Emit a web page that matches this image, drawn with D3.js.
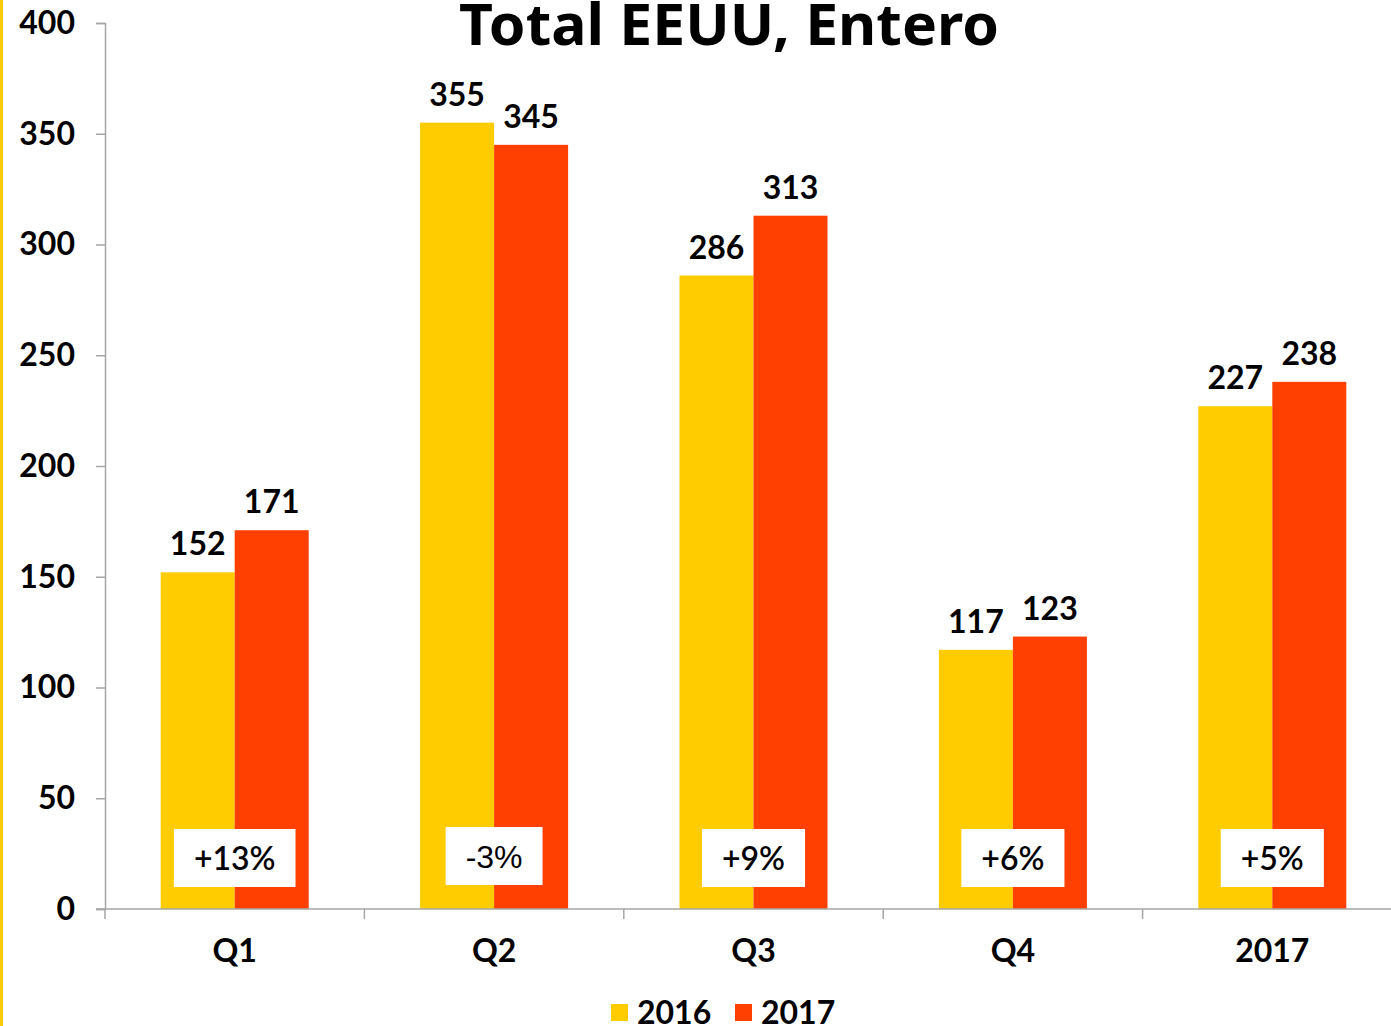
<!DOCTYPE html>
<html>
<head>
<meta charset="UTF-8">
<title>Total EEUU, Entero</title>
<script src="https://cdn.jsdelivr.net/npm/d3@7"></script>
<style>
    body { margin: 0; background: #fff; }
    svg { display: block; }
    text { font-family: Lato, "Noto Sans", sans-serif; fill: #000; }
</style>
</head>
<body>
<div id="chart"></div>
<script>
    // data
    var categories = ["Q1", "Q2", "Q3", "Q4", "2017"];
    var seriesNames = ["2016", "2017"];
    var values2016 = [152, 355, 286, 117, 227];
    var values2017 = [171, 345, 313, 123, 238];
    var changes = ["+13%", "-3%", "+9%", "+6%", "+5%"];
    var yTicks = [0, 50, 100, 150, 200, 250, 300, 350, 400];
    var colors = ["#FFCC00", "#FF4000"];

    var W = 1391, H = 1026;
    var svg = d3.select("#chart").append("svg").attr("width", W).attr("height", H);

    // yellow strip on the left edge
    svg.append("rect").attr("x", 0).attr("y", 0).attr("width", 3).attr("height", H).attr("fill", colors[0]);

    var x = d3.scaleBand().domain(categories).range([105, 1402]);
    var x1 = d3.scaleBand().domain(seriesNames).range([x.bandwidth() / 2 - 74, x.bandwidth() / 2 + 74]);
    var y = d3.scaleLinear().domain([0, 400]).range([909, 23]);

    // title
    svg.append("text")
        .attr("x", 729).attr("y", 45)
        .attr("text-anchor", "middle")
        .style("font-family", "'Noto Sans', sans-serif")
        .style("font-weight", 700)
        .style("font-size", "58px")
        .attr("textLength", 540)
        .attr("lengthAdjust", "spacingAndGlyphs")
        .text("Total EEUU, Entero");

    // bars
    var groups = svg.append("g").selectAll("g").data(categories).join("g")
        .attr("transform", function (d) { return "translate(" + x(d) + ",0)"; });

    groups.each(function (c, i) {
        var g = d3.select(this);
        var vals = [values2016[i], values2017[i]];
        vals.forEach(function (v, j) {
            g.append("rect")
                .attr("x", x1(seriesNames[j]))
                .attr("y", y(v))
                .attr("width", x1.bandwidth())
                .attr("height", y(0) - y(v))
                .attr("fill", colors[j]);
            g.append("text")
                .attr("x", x1(seriesNames[j]) + x1.bandwidth() / 2)
                .attr("y", y(v) - 17)
                .attr("text-anchor", "middle")
                .style("font-weight", 700)
                .style("font-size", "32px")
                .text(v);
        });
    });

    // y axis
    var yAxis = svg.append("g").attr("transform", "translate(105,0)")
        .call(d3.axisLeft(y).tickValues(yTicks).tickSize(9).tickPadding(21));
    yAxis.select(".domain").attr("stroke", "#A6A6A6").attr("stroke-width", 1.5);
    yAxis.selectAll(".tick line").attr("stroke", "#A6A6A6").attr("stroke-width", 1.5);
    yAxis.selectAll(".tick text")
        .style("font-family", "Lato, sans-serif")
        .style("font-weight", 700)
        .style("font-size", "32px")
        .attr("fill", "#000");

    // x axis line and boundary ticks
    var xAxis = svg.append("g");
    xAxis.append("line")
        .attr("x1", 96).attr("x2", W)
        .attr("y1", y(0)).attr("y2", y(0))
        .attr("stroke", "#A6A6A6").attr("stroke-width", 1.5);
    xAxis.selectAll("line.b").data(categories).join("line")
        .attr("class", "b")
        .attr("x1", function (d) { return x(d); })
        .attr("x2", function (d) { return x(d); })
        .attr("y1", y(0)).attr("y2", y(0) + 10)
        .attr("stroke", "#A6A6A6").attr("stroke-width", 1.5);
    xAxis.selectAll("text").data(categories).join("text")
        .attr("x", function (d) { return x(d) + x.bandwidth() / 2; })
        .attr("y", 962)
        .attr("text-anchor", "middle")
        .style("font-weight", 700)
        .style("font-size", "32px")
        .text(function (d) { return d; });

    // change boxes
    var boxes = svg.append("g").selectAll("g").data(categories).join("g");
    boxes.each(function (c, i) {
        var g = d3.select(this);
        var cx = x(c) + x.bandwidth() / 2;
        var t = g.append("text")
            .attr("x", cx)
            .attr("y", 870 - (i === 1 ? 2 : 0))
            .attr("text-anchor", "middle")
            .style("font-size", "32px")
            .style("font-weight", i === 1 ? 400 : 600)
            .style("font-family", i === 1 ? "'Liberation Sans', Arial, sans-serif" : "Lato, sans-serif")
            .text(changes[i]);
        var w = t.node().getComputedTextLength() + 40;
        g.insert("rect", "text")
            .attr("x", cx - w / 2)
            .attr("y", 829 - (i === 1 ? 2 : 0))
            .attr("width", w)
            .attr("height", 58)
            .attr("fill", "#fff");
    });

    // legend
    var legend = svg.append("g");
    var legendX = [611, 735];
    seriesNames.forEach(function (s, j) {
        legend.append("rect")
            .attr("x", legendX[j]).attr("y", 1004)
            .attr("width", 17).attr("height", 17)
            .attr("fill", colors[j]);
        legend.append("text")
            .attr("x", legendX[j] + 26).attr("y", 1024)
            .style("font-weight", 700)
            .style("font-size", "32px")
            .text(s);
    });
</script>
</body>
</html>
